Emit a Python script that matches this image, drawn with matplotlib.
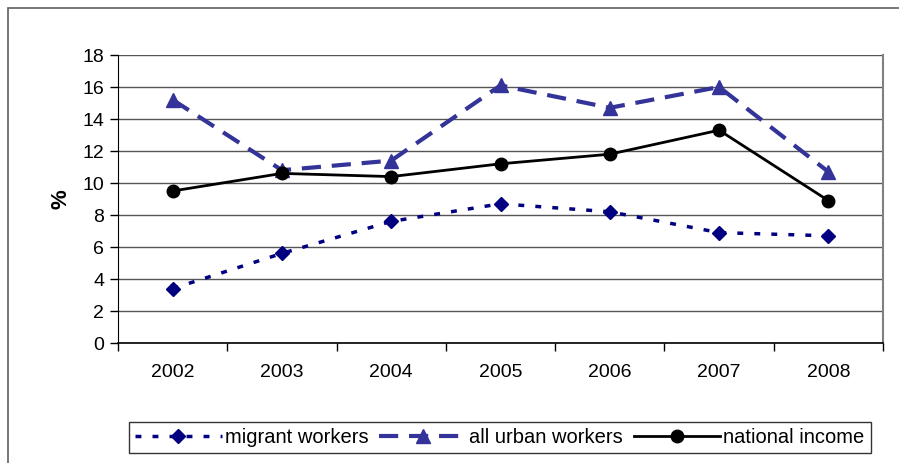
import matplotlib

matplotlib.use("Agg")
import matplotlib.pyplot as plt
from matplotlib.patches import Rectangle

years = ["2002", "2003", "2004", "2005", "2006", "2007", "2008"]
migrant_workers = [3.4, 5.6, 7.6, 8.7, 8.2, 6.9, 6.7]
all_urban_workers = [15.2, 10.8, 11.4, 16.1, 14.7, 16.0, 10.7]
national_income = [9.5, 10.6, 10.4, 11.2, 11.8, 13.3, 8.9]
y_ticks = list(range(0, 20, 2))

plt.rcParams["font.family"] = ["Liberation Sans", "DejaVu Sans"]

W, H = 899, 463
fig = plt.figure(figsize=(W / 100, H / 100), dpi=100)
ax = fig.add_axes([118 / W, 1 - 343 / H, 765 / W, 288 / H])

# outer chart frame, runs off the right and bottom edges
fig.patches.append(Rectangle((8 / W, -0.1), 1.2, 1 - 8 / H + 0.1,
                             transform=fig.transFigure, fill=False,
                             edgecolor="#606060", linewidth=1.2))

x = list(range(len(years)))
ax.plot(x, migrant_workers, color="#000080", linewidth=2.5,
        dashes=(1.7, 3.2), marker="D", markersize=7.5,
        label="migrant workers")
ax.plot(x, all_urban_workers, color="#333399", linewidth=3,
        dashes=(4.6, 2.6), marker="^", markersize=10,
        label="all urban workers")
ax.plot(x, national_income, color="black", linewidth=2,
        marker="o", markersize=9, label="national income")

ax.set_xlim(-0.5, len(years) - 0.5)
ax.set_ylim(0, 18)
ax.set_yticks(y_ticks)
ax.set_yticklabels([str(v) for v in y_ticks], fontsize=14)
# category labels sit between the boundary ticks
ax.set_xticks([i - 0.5 for i in range(len(years) + 1)], minor=False)
ax.set_xticklabels([])
ax.set_xticks(x, minor=True)
ax.set_xticklabels(years, minor=True, fontsize=14)
ax.tick_params(axis="x", which="minor", length=0, pad=15)
ax.tick_params(axis="x", which="major", length=6, direction="out",
               color="black", width=1)
ax.tick_params(axis="y", length=6, direction="out", width=1, pad=4)
ax.grid(axis="y", color="#555555", linewidth=1)
ax.set_axisbelow(True)

ax.spines["top"].set_visible(False)
ax.spines["right"].set_color("#808080")
ax.spines["right"].set_linewidth(1.5)
ax.spines["left"].set_color("black")
ax.spines["bottom"].set_color("black")
ax.spines["bottom"].set_linewidth(1.2)

ax.set_ylabel("%", fontsize=16, fontweight="bold", labelpad=8)

leg = fig.legend(loc="lower left", bbox_to_anchor=(129 / W, 1 - 453 / H),
                 ncol=3, fontsize=14.5, frameon=True, fancybox=False,
                 handlelength=4.3, handletextpad=0.15, columnspacing=0.55,
                 borderpad=0.3, borderaxespad=0)
leg.get_frame().set_edgecolor("black")
leg.get_frame().set_linewidth(1)

fig.savefig("out.png", dpi=100)
